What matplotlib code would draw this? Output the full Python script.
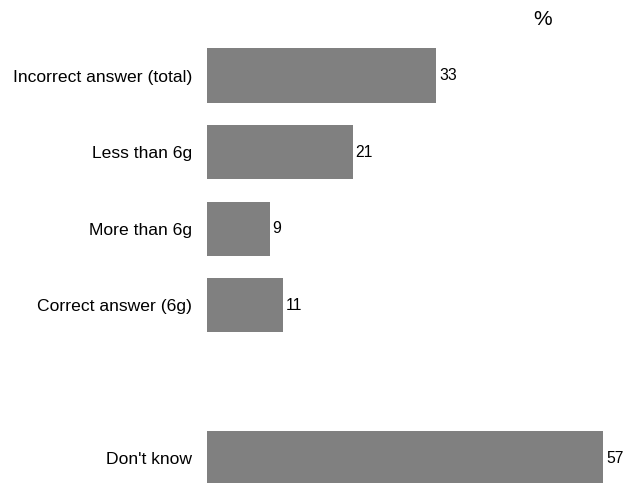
import matplotlib
matplotlib.use("Agg")
import matplotlib.pyplot as plt

plt.rcParams['font.family'] = ['Liberation Sans', 'DejaVu Sans']

categories = ["Incorrect answer (total)", "Less than 6g", "More than 6g",
              "Correct answer (6g)", "Don't know"]
values = [33, 21, 9, 11, 57]
# row slots; slot 4 is left empty as a spacer before "Don't know"
positions = [0, 1, 2, 3, 5]

fig = plt.figure(figsize=(6.24, 4.83), dpi=100)
ax = fig.add_axes([207 / 624, 0.0, 417 / 624, 1.0])

ax.barh(positions, values, height=0.71, color="#808080", edgecolor="none")

ax.set_xlim(0, 60)
ax.set_ylim(5.32, -0.986)

for p, v in zip(positions, values):
    ax.annotate(str(v), xy=(v, p), xytext=(2, 0), textcoords="offset points",
                ha="left", va="center", fontsize=11.3, color="#000000")

ax.set_yticks(positions)
ax.set_yticklabels(categories, fontsize=12.6)
ax.tick_params(axis="y", length=0, pad=10.5)
ax.set_xticks([])
for s in ax.spines.values():
    s.set_visible(False)

ax.text(48.3, -0.725, "%", ha="center", va="center", fontsize=15)

fig.savefig("out.png", dpi=100)
